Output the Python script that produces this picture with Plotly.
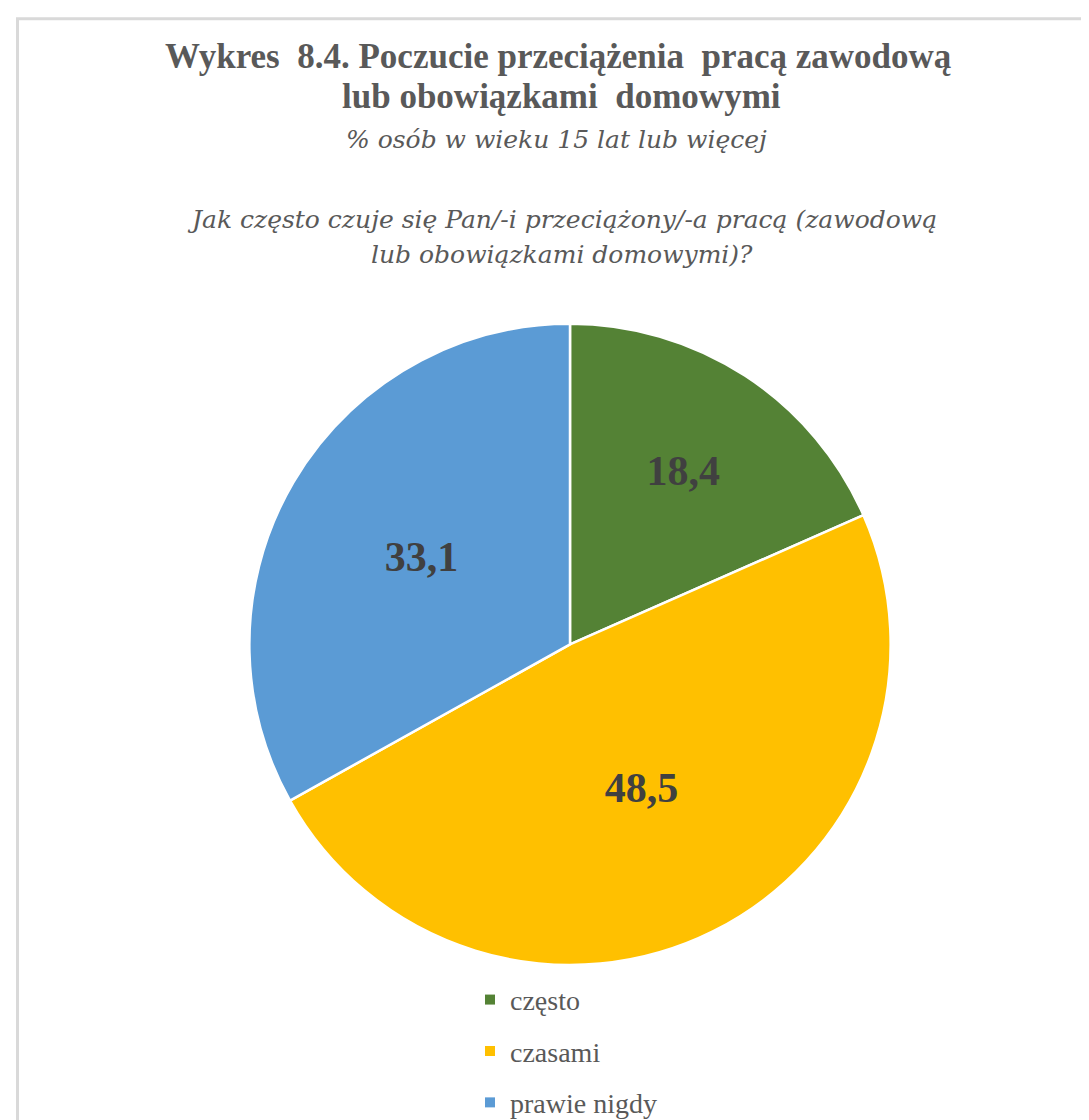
import plotly.graph_objects as go

categories = ["często", "czasami", "prawie nigdy"]
values = [18.4, 48.5, 33.1]
colors = ["#548235", "#FFC000", "#5B9BD5"]

W, H = 1089, 1120
cx, cy, r = 562, 645, 325
SERIF = "Liberation Serif"
SERIF_IT = "DejaVu Serif"

fig = go.Figure()
fig.add_trace(go.Pie(
    labels=categories,
    values=values,
    sort=False,
    direction="clockwise",
    rotation=0,
    showlegend=False,
    marker=dict(colors=colors, line=dict(color="white", width=2.5)),
    texttemplate="<b>%{value:.1f}</b>",
    textposition="inside",
    insidetextorientation="horizontal",
    textfont=dict(family=SERIF, size=42, color="#404040"),
    domain=dict(x=[(cx - r) / W, (cx + r) / W], y=[1 - (cy + r) / H, 1 - (cy - r) / H]),
    hoverinfo="label+value",
))

# legend entries (one per category, so gaps between them can be set)
for name, col in zip(categories, colors):
    fig.add_trace(go.Scatter(
        x=[None], y=[None], mode="markers", name=name, legendgroup=name,
        marker=dict(symbol="square", size=10, color=col),
        hoverinfo="skip",
    ))

title_color = "#595959"
ann = [
    dict(text="<b>Wykres  8.4. Poczucie przeciążenia  pracą zawodową</b>", y=49, size=35, fam=SERIF, x=550),
    dict(text="<b>lub obowiązkami  domowymi</b>", y=90, size=35, fam=SERIF, x=553),
    dict(text="<i>% osób w wieku 15 lat lub więcej</i>", y=133, size=25, fam=SERIF_IT, x=548),
    dict(text="<i>Jak często czuje się Pan/-i przeciążony/-a pracą (zawodową</i>", y=214, size=25, fam=SERIF_IT, x=554),
    dict(text="<i>lub obowiązkami domowymi)?</i>", y=250, size=25, fam=SERIF_IT, x=554),
]
annotations = []
for a in ann:
    annotations.append(dict(
        text=a["text"], x=a["x"] / W, y=1 - a["y"] / H, xref="paper", yref="paper",
        xanchor="center", yanchor="middle", showarrow=False,
        font=dict(family=a["fam"], size=a["size"], color=title_color),
    ))

fig.update_layout(
    width=W, height=H,
    margin=dict(l=0, r=0, t=0, b=0),
    paper_bgcolor="white",
    plot_bgcolor="white",
    separators=",.",
    annotations=annotations,
    showlegend=True,
    xaxis=dict(visible=False),
    yaxis=dict(visible=False),
    legend=dict(
        x=462 / W, y=1 - 980 / H, xanchor="left", yanchor="top",
        font=dict(family=SERIF, size=28, color="#595959"),
        itemwidth=30, tracegroupgap=12,
        bgcolor="rgba(0,0,0,0)",
    ),
    shapes=[dict(
        type="rect", xref="paper", yref="paper",
        x0=9.5 / W, x1=1.05, y0=-0.05, y1=1 - 11 / H,
        line=dict(color="#D9D9D9", width=3), fillcolor="rgba(0,0,0,0)",
    )],
)

fig.write_html("out.html")
